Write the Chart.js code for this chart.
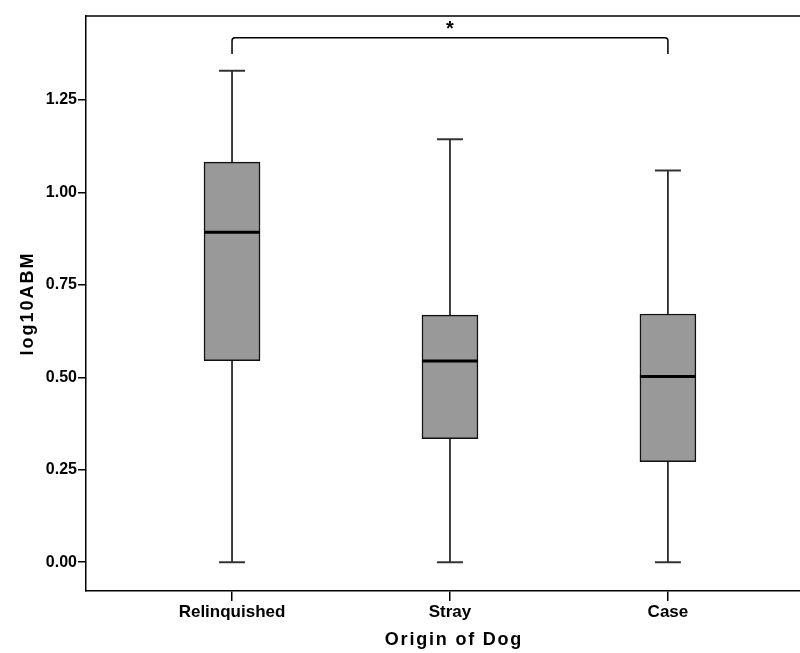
<!DOCTYPE html>
<html>
<head>
<meta charset="utf-8">
<script src="https://cdn.jsdelivr.net/npm/chart.js@4/dist/chart.umd.min.js"></script>
<style>
  html, body { margin: 0; padding: 0; background: #fff; }
  #wrap { width: 800px; height: 653px; }
</style>
</head>
<body>
<div id="wrap"><canvas id="chart"></canvas></div>
<script>
// values
const categories = ['Relinquished', 'Stray', 'Case'];
const whiskerLow = [0.0, 0.0, 0.0];
const q1 = [0.545, 0.334, 0.272];
const median = [0.892, 0.544, 0.502];
const q3 = [1.082, 0.668, 0.671];
const whiskerHigh = [1.329, 1.144, 1.059];
const yTicks = [0.0, 0.25, 0.5, 0.75, 1.0, 1.25];

// significance bracket between Relinquished and Case
const bracketFrom = 0;
const bracketTo = 2;
const bracketLegY = 1.374;
const bracketTopY = 1.418;
const bracketLabel = '*';

const xTitle = 'Origin of Dog';
const yTitle = 'log10ABM';

const FONT = '"Liberation Sans", Arial, sans-serif';

const boxPlugin = {
    id: 'boxParts',
    afterDatasetsDraw(chart) {
        const ctx = chart.ctx;
        const x = chart.scales.x;
        const y = chart.scales.y;
        const area = chart.chartArea;
        ctx.save();
        ctx.strokeStyle = '#000';

        categories.forEach((c, i) => {
            const cx = x.getPixelForValue(i);
            const half = 13;
            ctx.strokeStyle = '#000';
            ctx.lineWidth = 1.5;
            // whisker lines
            ctx.beginPath();
            ctx.moveTo(cx, y.getPixelForValue(q3[i]));
            ctx.lineTo(cx, y.getPixelForValue(whiskerHigh[i]));
            ctx.moveTo(cx, y.getPixelForValue(q1[i]));
            ctx.lineTo(cx, y.getPixelForValue(whiskerLow[i]));
            ctx.stroke();
            // caps
            ctx.strokeStyle = '#333';
            ctx.lineWidth = 2;
            ctx.beginPath();
            const hy = y.getPixelForValue(whiskerHigh[i]);
            const ly = y.getPixelForValue(whiskerLow[i]);
            ctx.moveTo(cx - half, hy); ctx.lineTo(cx + half, hy);
            ctx.moveTo(cx - half, ly); ctx.lineTo(cx + half, ly);
            ctx.stroke();
            // median
            ctx.strokeStyle = '#000';
            ctx.lineWidth = 3;
            const bar = chart.getDatasetMeta(0).data[i];
            const bw = bar.width / 2;
            const my = y.getPixelForValue(median[i]);
            ctx.beginPath();
            ctx.moveTo(cx - bw, my); ctx.lineTo(cx + bw, my);
            ctx.stroke();
        });

        // bracket
        const bx1 = x.getPixelForValue(bracketFrom);
        const bx2 = x.getPixelForValue(bracketTo);
        const legY = y.getPixelForValue(bracketLegY);
        const topY = y.getPixelForValue(bracketTopY);
        ctx.lineWidth = 1.5;
        ctx.strokeStyle = '#000';
        ctx.beginPath();
        ctx.moveTo(bx1, legY);
        ctx.lineTo(bx1, topY + 3);
        ctx.quadraticCurveTo(bx1, topY, bx1 + 3, topY);
        ctx.lineTo(bx2 - 3, topY);
        ctx.quadraticCurveTo(bx2, topY, bx2, topY + 3);
        ctx.lineTo(bx2, legY);
        ctx.stroke();
        ctx.fillStyle = '#000';
        ctx.font = 'bold 20px ' + FONT;
        ctx.textAlign = 'center';
        ctx.textBaseline = 'middle';
        ctx.fillText(bracketLabel, (bx1 + bx2) / 2, topY - 8);

        // top frame line
        ctx.lineWidth = 1.5;
        ctx.beginPath();
        ctx.moveTo(area.left, area.top);
        ctx.lineTo(chart.width, area.top);
        ctx.stroke();

        // axis titles (spaced lettering)
        ctx.font = 'bold 18px ' + FONT;
        ctx.letterSpacing = '1.8px';
        ctx.fillText(xTitle, x.getPixelForValue(1) + 4, 640);
        ctx.translate(28, (area.top + area.bottom) / 2);
        ctx.rotate(-Math.PI / 2);
        ctx.letterSpacing = '2px';
        ctx.fillText(yTitle, 0, 0);
        ctx.restore();
    }
};

new Chart(document.getElementById('chart'), {
    type: 'bar',
    data: {
        datasets: [{
            data: categories.map((c, i) => ({ x: i, y: [q1[i], q3[i]] })),
            backgroundColor: '#999999',
            borderColor: '#111',
            borderWidth: 1.5,
            borderSkipped: false,
            barThickness: 56
        }]
    },
    options: {
        responsive: true,
        maintainAspectRatio: false,
        animation: false,
        layout: { padding: { top: 16, right: 0, bottom: 0, left: 0 } },
        plugins: {
            legend: { display: false },
            tooltip: { enabled: false }
        },
        scales: {
            x: {
                type: 'linear',
                offset: false,
                min: -0.67,
                max: 2.606,
                afterBuildTicks: (scale) => {
                    scale.ticks = categories.map((c, i) => ({ value: i }));
                },
                afterFit: (scale) => { scale.height = 62; },
                ticks: {
                    callback: (v) => categories[v],
                    color: '#000',
                    padding: 1,
                    maxRotation: 0,
                    font: { family: FONT, size: 17, weight: 'bold' }
                },
                grid: {
                    offset: false,
                    drawOnChartArea: false,
                    drawTicks: true,
                    tickLength: 10,
                    color: '#000',
                    lineWidth: 1.5
                },
                border: { display: true, color: '#000', width: 1.5 }
            },
            y: {
                min: -0.078,
                max: 1.477,
                afterBuildTicks: (scale) => {
                    scale.ticks = yTicks.map(v => ({ value: v }));
                },
                afterFit: (scale) => { scale.width = 86; },
                ticks: {
                    callback: (v) => Number(v).toFixed(2),
                    color: '#000',
                    padding: 1,
                    font: { family: FONT, size: 16, weight: 'bold' }
                },
                grid: {
                    drawOnChartArea: false,
                    drawTicks: true,
                    tickLength: 8,
                    color: '#000',
                    lineWidth: 1.5
                },
                border: { display: true, color: '#000', width: 1.5 }
            }
        }
    },
    plugins: [boxPlugin]
});
</script>
</body>
</html>
